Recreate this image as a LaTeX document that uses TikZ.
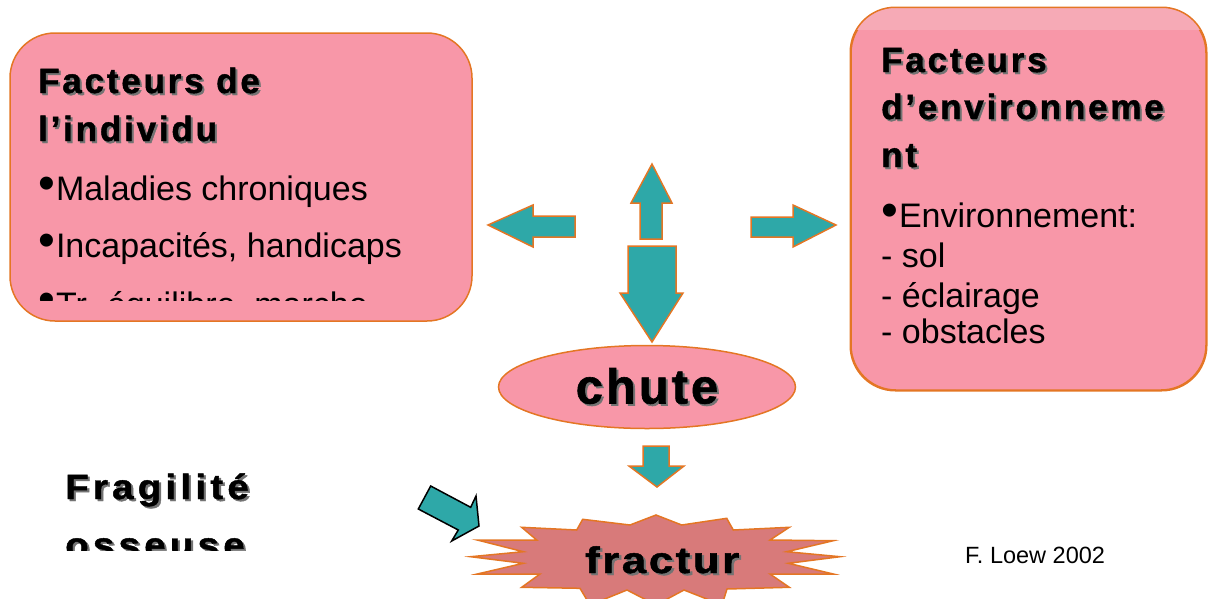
\documentclass[tikz,border=0pt]{standalone}
\usepackage{graphicx}
\usepackage{fontspec}
\setmainfont{Liberation Sans}
\newfontfamily\headfont[LetterSpace=8,FakeBold=1.2]{Liberation Sans Bold}
\newfontfamily\chutefont[LetterSpace=6,FakeBold=1.2]{Liberation Sans Bold}
\newfontfamily\widefont[LetterSpace=11,FakeBold=1.2]{Liberation Sans Bold}
\newfontfamily\fracfont[LetterSpace=6,FakeBold=1.2]{Liberation Sans Bold}
\usetikzlibrary{shapes.geometric}
\definecolor{boxpink}{RGB}{248,151,168}
\definecolor{bandpink}{RGB}{246,170,182}
\definecolor{boxline}{RGB}{228,118,36}
\definecolor{arrteal}{RGB}{46,168,168}
\definecolor{starred}{RGB}{216,122,122}
\newcommand{\shd}[1]{\makebox[0pt][l]{\kern2pt\raisebox{-2pt}{\color{black!55}#1}}#1}
\newcommand{\bul}{\raisebox{1pt}{\fontsize{48}{48}\selectfont •}\hspace{1pt}}
\tikzstyle{factbox}=[draw=boxline,fill=boxpink,line width=1.5pt,rounded corners=45pt,inner sep=0pt]
\tikzstyle{blockarr}=[draw=boxline,fill=arrteal,line width=1.5pt,line join=miter]
\tikzstyle{head}=[anchor=base west,inner sep=0pt,font=\headfont\fontsize{35}{35}\selectfont]
\tikzstyle{item}=[anchor=base west,inner sep=0pt,font=\fontsize{34}{34}\selectfont]
\tikzstyle{big}=[anchor=base west,inner sep=0pt,font=\widefont\fontsize{35}{35}\selectfont]

\begin{document}
\begin{tikzpicture}[x=1pt,y=-1pt]
    \useasboundingbox (0,0) rectangle (1208,598);

    % the two boxes of factors
    \node[factbox,minimum width=462pt,minimum height=288pt] (indiv) at (241,177) {};
    \node[factbox,minimum width=355pt,minimum height=382pt] (envir) at (1028.5,199) {};
    \begin{scope}
        \clip[rounded corners=45pt] (envir.south west) rectangle (envir.north east);
        \fill[bandpink] (851,8) rectangle (1206,30);
    \end{scope}
    \draw[boxline,line width=1.5pt,rounded corners=45pt] (envir.south west) rectangle (envir.north east);

    \node[head] (indiv1) at (38,93) {\shd{Facteurs de}};
    \node[head] (indiv2) at (38,141) {\shd{l’individu}};
    \foreach \y/\name/\txt in {200/mal/Maladies chroniques, 257/inc/{Incapacités, handicaps}}
        \node[item] (\name) at (38,\y) {\bul\txt};
    \begin{scope}
        \clip (0,0) rectangle (1208,300);
        \node[item] (equil) at (38,316) {\bul Tr. équilibre, marche};
    \end{scope}

    \node[head] (envir1) at (881,72) {\shd{Facteurs}};
    \node[head] (envir2) at (881,119) {\shd{d’environneme}};
    \node[head] (envir3) at (881,167) {\shd{nt}};
    \node[item] (env) at (881,227) {\bul Environnement:};
    \foreach \y/\name/\txt in {267/sol/sol, 307/ecl/éclairage, 343/obs/obstacles}
        \node[item] (\name) at (881,\y) {- \txt};

    % block arrows
    \draw[blockarr] (488,225) -- (533,205) -- (533,216) -- (575,216) -- (575,237) -- (533,237) -- (533,247) -- cycle;
    \draw[blockarr] (652,164) -- (672,203) -- (662,203) -- (662,239) -- (640,239) -- (640,203) -- (631,203) -- cycle;
    \draw[blockarr] (836,225) -- (793,247) -- (793,237) -- (751,237) -- (751,217) -- (793,217) -- (793,205) -- cycle;
    \draw[blockarr] (652,342) -- (683,293) -- (676,293) -- (676,246) -- (628,246) -- (628,293) -- (620,293) -- cycle;
    \draw[blockarr] (657,487) -- (684,466) -- (669,466) -- (669,446) -- (643,446) -- (643,466) -- (629,466) -- cycle;
    \draw[blockarr,draw=black] (430.7,486) -- (470.7,507.3) -- (476,496) -- (479,526) -- (451.7,541) -- (458.3,530) -- (418.3,509) -- cycle;

    % chute
    \node[ellipse,draw=boxline,fill=boxpink,line width=1.5pt,minimum width=297pt,minimum height=83pt,inner sep=0pt,
        font=\chutefont\fontsize{49}{49}\selectfont] (chute) at (647,387) {\shd{chute}};

    % fracture
    \begin{scope}
        \clip (0,0) rectangle (1208,598);
        \draw[fill=starred,draw=boxline,line width=1.5pt] (656,515) -- (681.7,525) -- (726.7,518.3) -- (733.3,530)
            -- (789.3,527.3) -- (770,540) -- (833.3,540.7) -- (786.7,551.7) -- (840,556.7) -- (788.3,563.3)
            -- (833.3,574) -- (770,574) -- (789.3,587.3) -- (727,589) -- (722,605) -- (684,590) -- (656,605)
            -- (627,590) -- (590,605) -- (580,588.3) -- (521.7,587.3) -- (540,574) -- (477.3,574) -- (523.3,563.3)
            -- (470.7,556.7) -- (523.3,551.7) -- (477.3,540) -- (536.7,540) -- (521.7,527.3) -- (576.7,530)
            -- (582.7,519.3) -- (630,525) -- cycle;
    \end{scope}
    \node[big,font=\fracfont\fontsize{37}{37}\selectfont] (fractur) at (585,573) {\scalebox{1.18}[1]{\shd{fractur}}};

    % bone fragility
    \node[big] (frag) at (65,499) {\scalebox{1.1}[1]{\shd{Fragilité}}};
    \begin{scope}
        \clip (0,0) rectangle (1208,550);
        \node[big] (oss) at (65,557) {\scalebox{1.1}[1]{\shd{osseuse}}};
    \end{scope}

    \node[anchor=base west,inner sep=0pt,font=\fontsize{23.5}{23.5}\selectfont] (loew) at (965,563) {F. Loew 2002};
\end{tikzpicture}
\end{document}
